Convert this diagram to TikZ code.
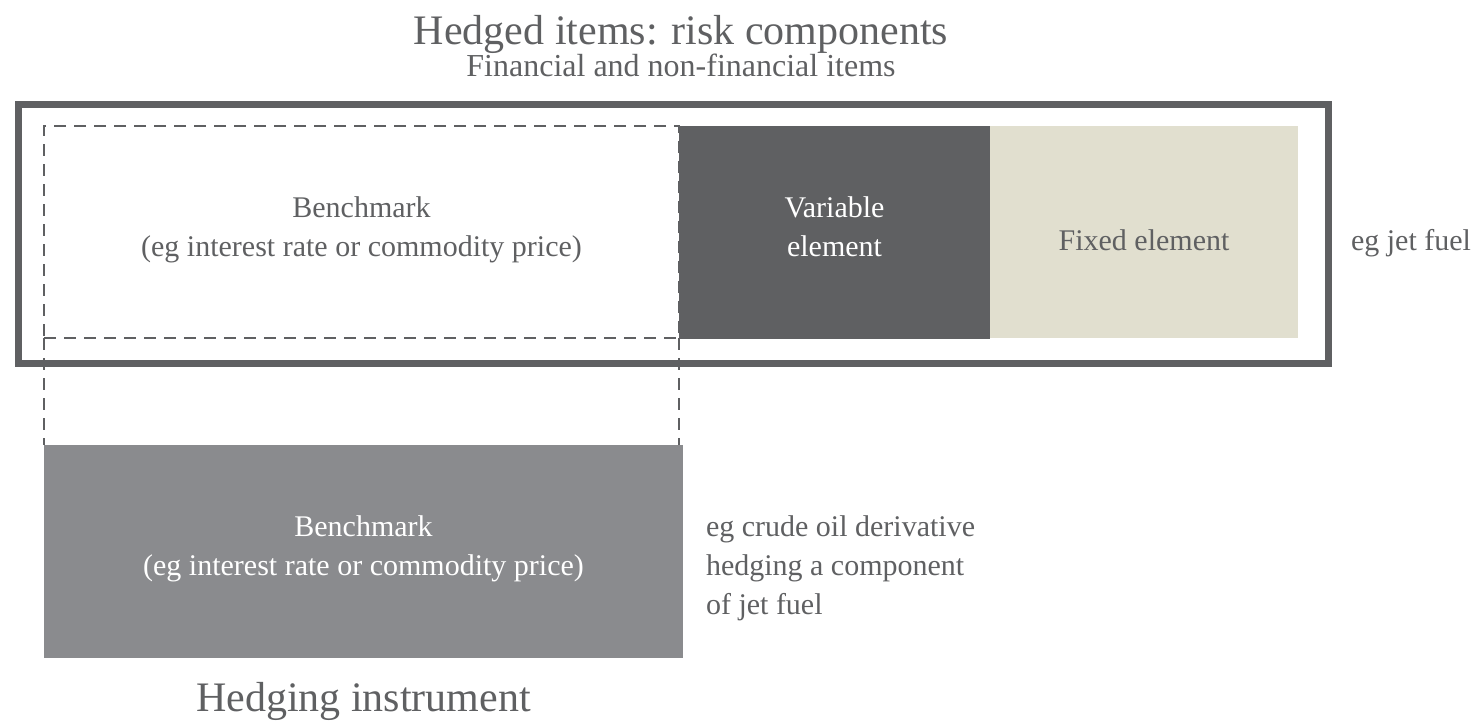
\documentclass[tikz,border=0pt]{standalone}
\usepackage{fontspec}
\setmainfont{Liberation Serif}

\definecolor{slate}{HTML}{5F6062}
\definecolor{pewter}{HTML}{8A8B8E}
\definecolor{sand}{HTML}{E1DFCF}
\newcommand{\hedgebody}{\fontsize{15}{19.5}\selectfont}
\newcommand{\hedgehead}{\fontsize{21}{26}\selectfont}
\newcommand{\hedgesub}{\fontsize{16}{19}\selectfont}

\tikzset{
  part/.style={rectangle, inner sep=0pt, outer sep=0pt, align=center,
    font=\hedgebody, text=slate},
  lines/.style={part, execute at begin node=\strut, execute at end node=\strut},
  outerframe/.style={part, draw=slate, line width=3.5pt,
    minimum width=655.25pt, minimum height=129.5pt},
  dashbox/.style={draw=slate, line width=1pt, dash pattern=on 6pt off 4pt},
  dashline/.style={draw=slate, line width=1pt, dash pattern=on 6pt off 4pt}
}

\begin{document}
\begin{tikzpicture}[x=0.5pt,y=-0.5pt]
\useasboundingbox (0,0) rectangle (1481,720);
% hedged item
\node[outerframe] (item) at (673.25,233.5) {};
\node[part, fill=slate, minimum width=155.5pt, minimum height=106.5pt] (var) at (834.5,232.5) {};
\node[part, fill=sand, minimum width=154pt, minimum height=106pt] (fix) at (1144,232) {};
\node[part, dashbox, minimum width=317.5pt, minimum height=106pt] (bench) at (361.5,232) {};
\node[lines] (benchtext) at (361.5,232) {Benchmark\\(eg interest rate or commodity price)};
\node[lines, text=white] (vartext) at (834.5,232) {Variable\\element};
\node[part, anchor=base] (fixtext) at (1144,250) {Fixed element};
% hedging instrument
\node[part, fill=pewter, minimum width=319.5pt, minimum height=106.5pt] (instr) at (363.5,551.5) {};
\node[lines, text=white] (instrtext) at (363.5,551) {Benchmark\\(eg interest rate or commodity price)};
\draw[dashline] (bench.south west) -- (bench.south west |- instr.north);
\draw[dashline] (bench.south east) -- (bench.south east |- instr.north);
% labels
\node[part, anchor=base west] (fuel) at (1351,250) {eg jet fuel};
\node[lines, align=left, anchor=west] (crude) at (706,571) {eg crude oil derivative\\hedging a component\\of jet fuel};
\node[part, font=\hedgehead, anchor=base] (title) at (681,44) {Hedged items: risk components};
\node[part, font=\hedgesub, anchor=base] (subtitle) at (681,76) {Financial and non-financial items};
\node[part, font=\hedgehead, anchor=base] (instrname) at (363.5,711) {Hedging instrument};
\end{tikzpicture}
\end{document}
